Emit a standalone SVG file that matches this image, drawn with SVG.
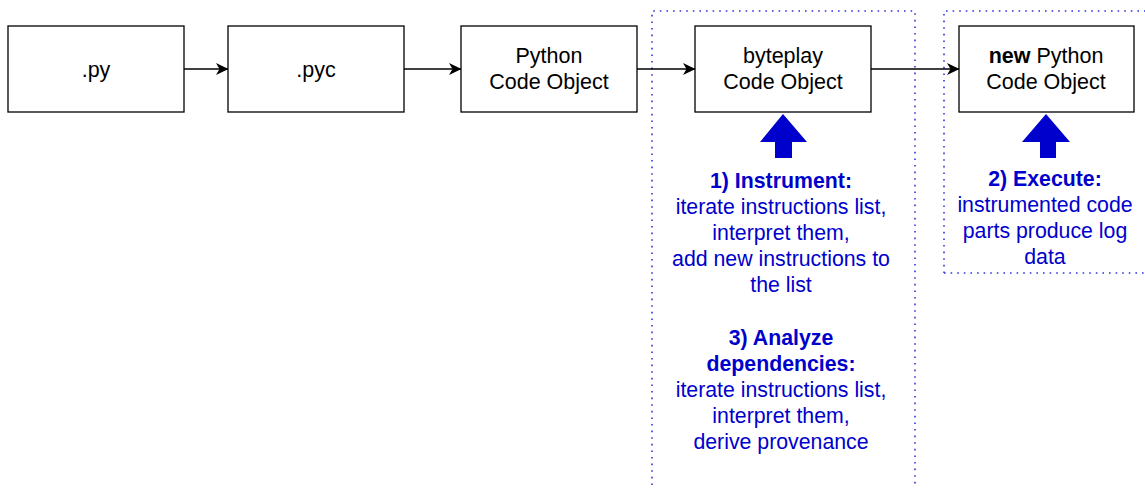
<svg xmlns="http://www.w3.org/2000/svg" width="1145" height="491" viewBox="0 0 1145 491">
<style>
.box{fill:#fff;stroke:#000;stroke-width:1.3}
.t{font-family:"Liberation Sans",Arial,sans-serif;font-size:21.5px;text-anchor:middle;fill:#000}
.b{font-family:"Liberation Sans",Arial,sans-serif;font-size:21.3px;text-anchor:middle;fill:#0000CC}
.bold{font-weight:bold}
.dot{fill:none;stroke:#3333DD;stroke-width:1.6;stroke-dasharray:1.6 5}
.conn{fill:none;stroke:#000;stroke-width:1.3}
.up{fill:#0000CC}
</style>
<defs>
<marker id="ah" viewBox="0 0 13 13" refX="12" refY="6.5" markerWidth="13" markerHeight="13" markerUnits="userSpaceOnUse" orient="auto">
<path d="M0,0.5 L12.5,6.5 L0,12.5 L3.5,6.5 Z" fill="#000"/>
</marker>
</defs>
<g id="group-instrument"><path class="dot" d="M652,485 L652,11 L915,11 L915,485"/></g>
<g id="group-execute"><path class="dot" d="M944,273 L944,11 L1145,11 M944,273 L1145,273"/></g>
<g id="connectors">
<line class="conn" x1="184" y1="69" x2="228" y2="69" marker-end="url(#ah)"/>
<line class="conn" x1="404" y1="69" x2="461" y2="69" marker-end="url(#ah)"/>
<line class="conn" x1="637" y1="69" x2="695" y2="69" marker-end="url(#ah)"/>
<line class="conn" x1="871" y1="69" x2="959" y2="69" marker-end="url(#ah)"/>
</g>
<g id="py"><rect class="box" x="8" y="26" width="176" height="86"/><text class="t" x="96" y="77">.py</text></g>
<g id="pyc"><rect class="box" x="228" y="26" width="176" height="86"/><text class="t" x="316" y="77">.pyc</text></g>
<g id="python-code-object"><rect class="box" x="461" y="26" width="176" height="86"/><text class="t" x="549" y="63">Python</text><text class="t" x="549" y="89">Code Object</text></g>
<g id="byteplay-code-object"><rect class="box" x="695" y="26" width="176" height="86"/><text class="t" x="783" y="63">byteplay</text><text class="t" x="783" y="89">Code Object</text></g>
<g id="new-python-code-object"><rect class="box" x="959" y="26" width="175" height="86"/><text class="t" x="1046" y="63"><tspan class="bold">new</tspan> Python</text><text class="t" x="1046" y="89">Code Object</text></g>
<g id="arrow-instrument"><path class="up" d="M783,114 L807,142 L792,142 L792,158 L775,158 L775,142 L760,142 Z"/></g>
<g id="arrow-execute"><path class="up" d="M1046,114 L1070,142 L1056,142 L1056,158 L1040,158 L1040,142 L1022,142 Z"/></g>
<g id="text-instrument">
<text class="b bold" x="781" y="188">1) Instrument:</text>
<text class="b" x="781" y="214">iterate instructions list,</text>
<text class="b" x="781" y="240">interpret them,</text>
<text class="b" x="781" y="266">add new instructions to</text>
<text class="b" x="781" y="292">the list</text>
<text class="b bold" x="781" y="345">3) Analyze</text>
<text class="b bold" x="781" y="371">dependencies:</text>
<text class="b" x="781" y="397">iterate instructions list,</text>
<text class="b" x="781" y="423">interpret them,</text>
<text class="b" x="781" y="449">derive provenance</text>
</g>
<g id="text-execute">
<text class="b bold" x="1045" y="186">2) Execute:</text>
<text class="b" x="1045" y="212">instrumented code</text>
<text class="b" x="1045" y="238">parts produce log</text>
<text class="b" x="1045" y="264">data</text>
</g>
</svg>
